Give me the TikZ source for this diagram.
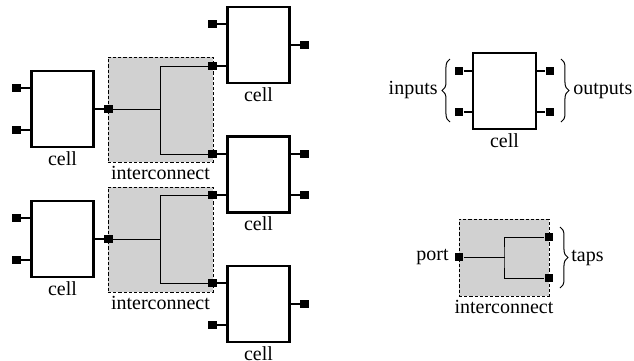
\documentclass[tikz,border=0pt]{standalone}
\usepackage{fontspec}
\setmainfont{Liberation Serif}
\usetikzlibrary{decorations.pathreplacing}
\tikzset{
  cellbox/.style={draw, line width=1.1pt, fill=white, minimum width=31pt, minimum height=38pt, inner sep=0pt},
  netbox/.style={draw, line width=0.4pt, dash pattern=on 1.6pt off 1pt, fill=black!18, inner sep=0pt},
  pin/.style={fill=black, minimum size=4.4pt, inner sep=0pt},
  stub/.style={line width=0.7pt},
  wire/.style={line width=0.5pt},
  curly/.style={decorate, decoration={brace, amplitude=4pt}, line width=0.5pt}
}
\begin{document}
\begin{tikzpicture}[x=0.5pt, y=-0.5pt, label distance=1pt, every label/.style={inner sep=0.5pt}]
 \useasboundingbox (0,0) rectangle (634,360);
 % interconnect regions
 \node[netbox, minimum width=52.5pt, minimum height=52.5pt, label=below:interconnect] (na) at (160.5,109.5) {};
 \node[netbox, minimum width=52.5pt, minimum height=52.5pt, label=below:interconnect] (nb) at (160.5,239.5) {};
 \node[netbox, minimum width=45pt, minimum height=38.5pt, label=below:interconnect] (nl) at (504,257.5) {};
 % cells
 \node[cellbox, label=below:cell] (ca) at (62.5,109) {};
 \node[cellbox, label=below:cell] (cb) at (62.5,239) {};
 \node[cellbox, label=below:cell] (ra) at (258.5,45) {};
 \node[cellbox, label=below:cell] (rb) at (258.5,174.5) {};
 \node[cellbox, label=below:cell] (rc) at (258.5,304) {};
 \node[cellbox, minimum width=31.5pt, label=below:cell] (lc) at (504.5,91) {};
 % pins
 \node[pin] (ca-i1) at (16.5,88) {};
 \node[pin] (ca-i2) at (16.5,130) {};
 \node[pin] (ca-o) at (108.5,109) {};
 \node[pin] (cb-i1) at (16.5,218) {};
 \node[pin] (cb-i2) at (16.5,260) {};
 \node[pin] (cb-o) at (108.5,239) {};
 \node[pin] (ra-i1) at (212.5,24) {};
 \node[pin] (ra-i2) at (212.5,66) {};
 \node[pin] (ra-o) at (304.5,45) {};
 \node[pin] (rb-i1) at (212.5,154) {};
 \node[pin] (rb-i2) at (212.5,195) {};
 \node[pin] (rb-o1) at (304.5,154) {};
 \node[pin] (rb-o2) at (304.5,195) {};
 \node[pin] (rc-i1) at (212.5,283) {};
 \node[pin] (rc-i2) at (212.5,325) {};
 \node[pin] (rc-o) at (304.5,304) {};
 \node[pin] (lc-i1) at (459,71) {};
 \node[pin] (lc-i2) at (459,112) {};
 \node[pin] (lc-o1) at (550,71) {};
 \node[pin] (lc-o2) at (550,112) {};
 \node[pin] (nl-p) at (459,257) {};
 \node[pin] (nl-t1) at (549,237) {};
 \node[pin] (nl-t2) at (549,278) {};
 % stubs
 \foreach \p/\c/\s in {ca-i1/ca/west, ca-i2/ca/west, ca-o/ca/east, cb-i1/cb/west, cb-i2/cb/west, cb-o/cb/east,
   ra-i1/ra/west, ra-i2/ra/west, ra-o/ra/east, rb-i1/rb/west, rb-i2/rb/west, rb-o1/rb/east, rb-o2/rb/east,
   rc-i1/rc/west, rc-i2/rc/west, rc-o/rc/east, lc-i1/lc/west, lc-i2/lc/west, lc-o1/lc/east, lc-o2/lc/east}
   \draw[stub] (\p) -- (\p -| \c.\s);
 % nets
 \coordinate (ja) at (160.5,109);
 \coordinate (jb) at (160.5,239);
 \coordinate (jl) at (505,257);
 \draw[wire] (ca-o) -- (ja);
 \draw[wire] (ra-i2) -| (ja) |- (rb-i1);
 \draw[wire] (cb-o) -- (jb);
 \draw[wire] (rb-i2) -| (jb) |- (rc-i1);
 \draw[wire] (nl-p) -- (jl);
 \draw[wire] (nl-t1) -| (jl) |- (nl-t2);
 % legend texts
 \draw[curly] (450,122) -- (450,59);
 \draw[curly] (561,59) -- (561,122);
 \draw[curly] (560,227) -- (560,288);
 \node[anchor=east, inner sep=2pt] (tin) at (442,90.5) {inputs};
 \node[anchor=west, inner sep=2pt] (tout) at (569,90.5) {outputs};
 \node[anchor=east, inner sep=2pt] (tport) at (453,257) {port};
 \node[anchor=west, inner sep=2pt] (ttaps) at (567,257.5) {taps};
\end{tikzpicture}
\end{document}
